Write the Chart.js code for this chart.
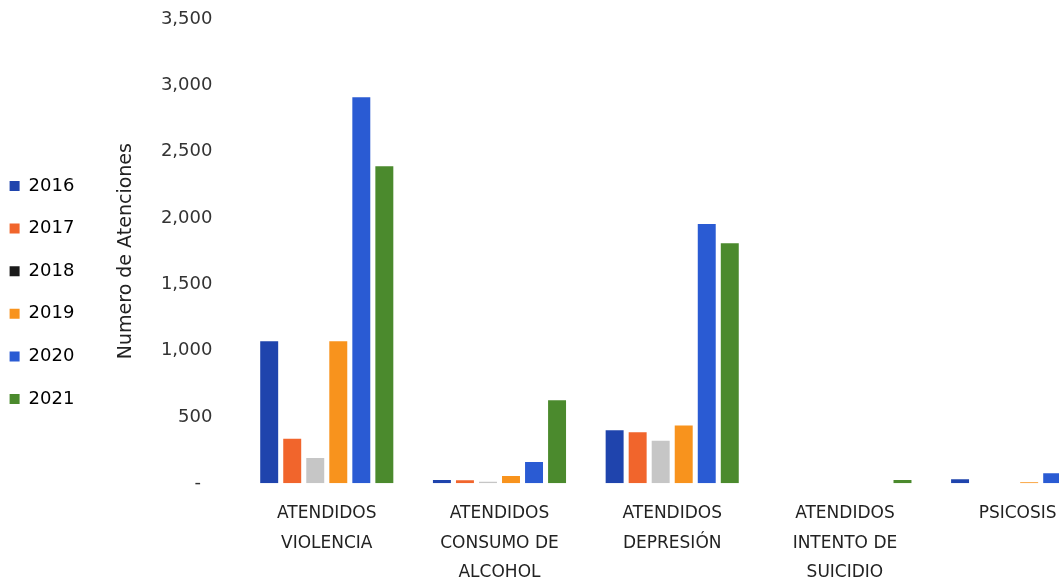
<!DOCTYPE html>
<html lang="es">
<head>
<meta charset="UTF-8">
<title>Numero de Atenciones</title>
<script src="https://cdn.jsdelivr.net/npm/chart.js"></script>
<style>
  html, body { margin: 0; padding: 0; background: #fff; overflow: hidden; }
  #wrap { position: relative; width: 1112px; height: 582px; }
</style>
</head>
<body>
<div id="wrap"><canvas id="grafico"></canvas></div>
<script>
// categorias (eje x)
const categorias = [
  ['ATENDIDOS', 'VIOLENCIA'],
  ['ATENDIDOS', 'CONSUMO DE', 'ALCOHOL'],
  ['ATENDIDOS', 'DEPRESIÓN'],
  ['ATENDIDOS', 'INTENTO DE', 'SUICIDIO'],
  ['PSICOSIS']
];
const anios = ['2016', '2017', '2018', '2019', '2020', '2021'];

// valores
const v2016 = [1070, 25, 400, 0, 30];
const v2017 = [335, 22, 385, 0, 0];
const v2018 = [190, 12, 320, 0, 0];
const v2019 = [1070, 55, 435, 0, 8];
const v2020 = [2910, 160, 1955, 0, 75];
const v2021 = [2390, 625, 1810, 25, null]; // psicosis 2021 queda fuera del recorte

const yTicks = [0, 500, 1000, 1500, 2000, 2500, 3000, 3500];

const colores = ['#1f44ad', '#f1652c', '#c6c6c6', '#f8931d', '#2a5bd3', '#4b8a2d'];
const coloresLeyenda = ['#1f44ad', '#f1652c', '#1a1a1a', '#f8931d', '#2a5bd3', '#4b8a2d'];

const series = [v2016, v2017, v2018, v2019, v2020, v2021];
const FUENTE = 'DejaVu Sans';

const ctx = document.getElementById('grafico').getContext('2d');
new Chart(ctx, {
  type: 'bar',
  data: {
    labels: categorias,
    datasets: anios.map((a, i) => ({
      label: a,
      data: series[i],
      backgroundColor: colores[i],
      borderWidth: 0,
      categoryPercentage: 0.8,
      barPercentage: 0.78
    }))
  },
  options: {
    responsive: true,
    maintainAspectRatio: false,
    animation: false,
    layout: { padding: { top: 0, right: 8, bottom: -3, left: -15 } },
    plugins: {
      tooltip: { enabled: false },
      legend: {
        position: 'left',
        align: 'center',
        labels: {
          boxWidth: 10,
          boxHeight: 10,
          padding: 24.6,
          color: '#222',
          font: { family: FUENTE, size: 18 },
          generateLabels: (chart) => anios.map((a, i) => ({
            text: a,
            fillStyle: coloresLeyenda[i],
            strokeStyle: coloresLeyenda[i],
            lineWidth: 0,
            hidden: false,
            datasetIndex: i
          }))
        }
      }
    },
    scales: {
      x: {
        afterFit: (scale) => { scale.height = scale.height - 18; },
        grid: { display: false, drawTicks: false },
        border: { display: false },
        ticks: {
          color: '#222',
          padding: 16,
          maxRotation: 0,
          autoSkip: false,
          font: { family: FUENTE, size: 17, lineHeight: 1.72 }
        }
      },
      y: {
        min: 0,
        max: 3500,
        afterBuildTicks: (scale) => { scale.ticks = yTicks.map(v => ({ value: v })); },
        afterFit: (scale) => {
          scale.width = 156;
          scale.paddingTop = 19;
          scale.paddingBottom = 0;
        },
        grid: { display: false, drawTicks: false },
        border: { display: false },
        title: {
          display: true,
          text: 'Numero de Atenciones',
          color: '#222',
          font: { family: FUENTE, size: 19 },
          padding: { top: 30, bottom: 10 }
        },
        ticks: {
          color: '#333',
          padding: 28,
          font: { family: FUENTE, size: 18 },
          callback: (v) => v === 0 ? '-  ' : v.toLocaleString('en-US')
        }
      }
    }
  }
});
</script>
</body>
</html>
